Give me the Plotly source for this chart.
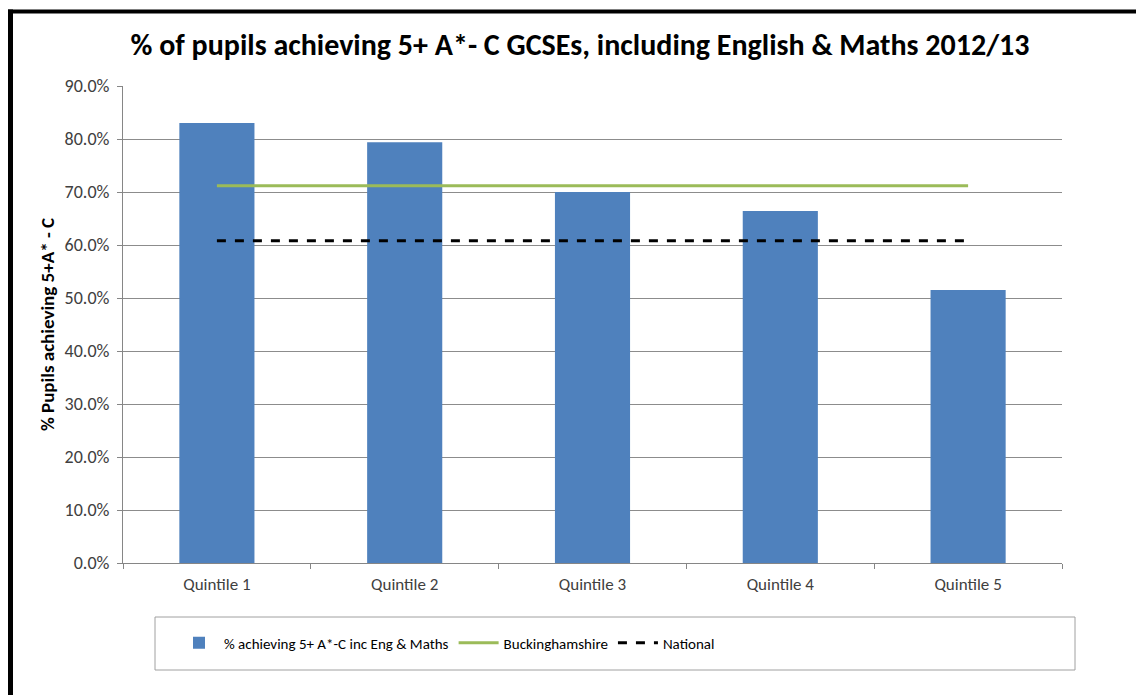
import plotly.graph_objects as go

categories = ["Quintile 1", "Quintile 2", "Quintile 3", "Quintile 4", "Quintile 5"]
pct_achieving = [83.0, 79.4, 70.0, 66.4, 51.5]
buckinghamshire = [71.2, 71.2, 71.2, 71.2, 71.2]
national = [60.8, 60.8, 60.8, 60.8, 60.8]

FONT = "Carlito, Lato, 'Open Sans', sans-serif"

OFF = 8  # page body margin
W, H = 1144 - OFF, 695 - OFF
L, R, T, B = 123 - OFF, 1062 - OFF, 86 - OFF, 563 - OFF

def px(x):  # page pixel -> paper
    return (x - OFF - L) / (R - L)

def py(y):
    return (B - (y - OFF)) / (B - T)

fig = go.Figure()
fig.add_trace(go.Bar(
    x=categories, y=pct_achieving, name="% achieving 5+ A*-C inc Eng & Maths",
    marker=dict(color="#4F81BD", line=dict(width=0)), width=0.4,
))
fig.add_trace(go.Scatter(
    x=categories, y=buckinghamshire, name="Buckinghamshire", mode="lines",
    line=dict(color="#9BBB59", width=3),
))
fig.add_trace(go.Scatter(
    x=categories, y=national, name="National", mode="lines",
    line=dict(color="black", width=3, dash="dash"),
))

shapes = [
    dict(type="line", xref="paper", yref="paper", x0=px(8), x1=px(1144), y0=py(11.5), y1=py(11.5),
         line=dict(color="black", width=4), layer="above"),
    dict(type="line", xref="paper", yref="paper", x0=px(10.5), x1=px(10.5), y0=py(9.5), y1=py(695),
         line=dict(color="black", width=5), layer="above"),
    dict(type="rect", xref="paper", yref="paper", x0=px(155), x1=px(1075), y0=py(617), y1=py(670),
         line=dict(color="#A0A0A0", width=1), fillcolor="rgba(0,0,0,0)"),
]

fig.update_layout(
    width=W, height=H,
    margin=dict(l=L, r=W - R, t=T, b=H - B, pad=0),
    paper_bgcolor="white", plot_bgcolor="white",
    font=dict(family=FONT, size=17, color="#404040"),
    title=dict(text="<b>% of pupils achieving 5+ A*- C GCSEs, including English & Maths 2012/13</b>",
               x=px(580), xref="paper", xanchor="center", y=1 - 36 / H, yanchor="middle",
               font=dict(family=FONT, size=30, color="black")),
    showlegend=True,
    legend=dict(orientation="h", x=px(174), xanchor="left", y=py(643), yanchor="middle",
                font=dict(family=FONT, size=15, color="black"), bgcolor="rgba(0,0,0,0)",
                traceorder="normal", itemwidth=40),
    shapes=shapes,
)
fig.update_xaxes(
    type="category", showline=True, linecolor="#868686", linewidth=1,
    ticks="outside", tickson="boundaries", ticklen=5, tickcolor="#868686",
    showgrid=False, tickfont=dict(family=FONT, size=17, color="#404040"),
    ticklabelstandoff=6,
)
fig.update_yaxes(
    range=[0, 90], dtick=10, tickformat=".1f", ticksuffix="%",
    showline=True, linecolor="#868686", linewidth=1,
    ticks="outside", ticklen=5, tickcolor="#868686",
    showgrid=True, gridcolor="#8C8C8C", gridwidth=1, zeroline=False,
    tickfont=dict(family=FONT, size=18, color="#404040"),
    ticklabelstandoff=4,
    title=dict(text="<b>% Pupils achieving 5+A* - C</b>", standoff=4,
               font=dict(family=FONT, size=19, color="black")),
)

fig.write_html("out.html")
